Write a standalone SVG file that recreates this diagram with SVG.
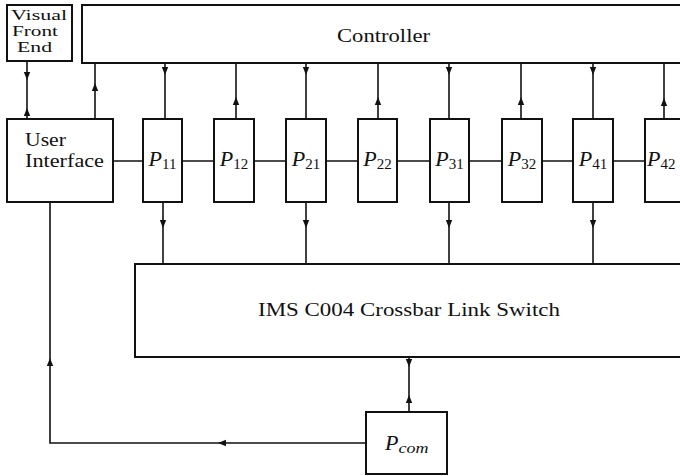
<svg xmlns="http://www.w3.org/2000/svg" xmlns:xlink="http://www.w3.org/1999/xlink" width="680" height="476" viewBox="0 0 680 476">
<style>
.box{fill:#fff;stroke:#111;stroke-width:2}
.ln{fill:none;stroke:#111;stroke-width:1.6}
.t{font-family:"Liberation Serif","DejaVu Serif",serif;fill:#111}
.p{font-family:"Liberation Serif","DejaVu Serif",serif;font-style:italic;fill:#111;font-size:22px}
.s{font-style:normal;font-size:15px}
.si{font-size:14px}
</style>
<defs>
<path id="ar" d="M-3.2,-8 L3.2,-8 L0,0 Z" fill="#111"/>
</defs>
<rect width="680" height="476" fill="#fff"/>
<g id="connectors">
<path class="ln" d="M27,61 V119"/>
<use xlink:href="#ar" transform="translate(27,80)"/>
<use xlink:href="#ar" transform="translate(27,108) rotate(180)"/>
<path class="ln" d="M95,119 V63"/>
<use xlink:href="#ar" transform="translate(95,83) rotate(180)"/>
<path class="ln" d="M165,63 V119"/>
<use xlink:href="#ar" transform="translate(165,75)"/>
<path class="ln" d="M236,63 V119"/>
<use xlink:href="#ar" transform="translate(236,97) rotate(180)"/>
<path class="ln" d="M306,63 V119"/>
<use xlink:href="#ar" transform="translate(306,75)"/>
<path class="ln" d="M378,63 V119"/>
<use xlink:href="#ar" transform="translate(378,97) rotate(180)"/>
<path class="ln" d="M449,63 V119"/>
<use xlink:href="#ar" transform="translate(449,75)"/>
<path class="ln" d="M521,63 V119"/>
<use xlink:href="#ar" transform="translate(521,97) rotate(180)"/>
<path class="ln" d="M593,63 V119"/>
<use xlink:href="#ar" transform="translate(593,75)"/>
<path class="ln" d="M664,63 V119"/>
<use xlink:href="#ar" transform="translate(664,98) rotate(180)"/>
<path class="ln" d="M113,161 H143 M182,161 H214 M254,161 H286 M326,161 H358 M397,161 H430 M469,161 H502 M542,161 H573 M613,161 H645"/>
<path class="ln" d="M163,202 V264"/>
<use xlink:href="#ar" transform="translate(163,228)"/>
<path class="ln" d="M306,202 V264"/>
<use xlink:href="#ar" transform="translate(306,228)"/>
<path class="ln" d="M449,202 V264"/>
<use xlink:href="#ar" transform="translate(449,228)"/>
<path class="ln" d="M593,202 V264"/>
<use xlink:href="#ar" transform="translate(593,228)"/>
<path class="ln" d="M409,357 V412"/>
<use xlink:href="#ar" transform="translate(409,367)"/>
<path class="ln" d="M366,443 H50 V202"/>
<use xlink:href="#ar" transform="translate(218,443) rotate(90)"/>
<use xlink:href="#ar" transform="translate(50,358) rotate(180)"/>
<use xlink:href="#ar" transform="translate(409,395) rotate(180)"/>
</g>
<g id="vfe">
<rect class="box" x="7" y="5" width="65" height="56"/>
<text class="t" font-size="15" x="11" y="20" textLength="56" lengthAdjust="spacingAndGlyphs">Visual</text>
<text class="t" font-size="15" x="12" y="36" textLength="46" lengthAdjust="spacingAndGlyphs">Front</text>
<text class="t" font-size="15" x="17" y="52" textLength="35" lengthAdjust="spacingAndGlyphs">End</text>
</g>
<g id="controller">
<rect class="box" x="82" y="5" width="610" height="58"/>
<text class="t" font-size="19" x="337" y="42" textLength="93" lengthAdjust="spacingAndGlyphs">Controller</text>
</g>
<g id="ui">
<rect class="box" x="7" y="119" width="106" height="83"/>
<text class="t" font-size="18" x="25" y="146" textLength="41" lengthAdjust="spacingAndGlyphs">User</text>
<text class="t" font-size="18" x="25" y="167" textLength="79" lengthAdjust="spacingAndGlyphs">Interface</text>
</g>
<g id="p11"><rect class="box" x="143" y="119" width="39" height="83"/><text class="p" x="162.5" y="166" text-anchor="middle">P<tspan class="s" dy="3">11</tspan></text></g>
<g id="p12"><rect class="box" x="214" y="119" width="40" height="83"/><text class="p" x="234" y="166" text-anchor="middle">P<tspan class="s" dy="3">12</tspan></text></g>
<g id="p21"><rect class="box" x="286" y="119" width="40" height="83"/><text class="p" x="306" y="166" text-anchor="middle">P<tspan class="s" dy="3">21</tspan></text></g>
<g id="p22"><rect class="box" x="358" y="119" width="39" height="83"/><text class="p" x="377.5" y="166" text-anchor="middle">P<tspan class="s" dy="3">22</tspan></text></g>
<g id="p31"><rect class="box" x="430" y="119" width="39" height="83"/><text class="p" x="449.5" y="166" text-anchor="middle">P<tspan class="s" dy="3">31</tspan></text></g>
<g id="p32"><rect class="box" x="502" y="119" width="40" height="83"/><text class="p" x="522" y="166" text-anchor="middle">P<tspan class="s" dy="3">32</tspan></text></g>
<g id="p41"><rect class="box" x="573" y="119" width="40" height="83"/><text class="p" x="593" y="166" text-anchor="middle">P<tspan class="s" dy="3">41</tspan></text></g>
<g id="p42"><rect class="box" x="645" y="119" width="45" height="83"/><text class="p" x="647" y="166">P<tspan class="s" dy="3">42</tspan></text></g>
<g id="crossbar">
<rect class="box" x="135" y="264" width="560" height="93"/>
<text class="t" font-size="19" x="258" y="316" textLength="302" lengthAdjust="spacingAndGlyphs">IMS C004 Crossbar Link Switch</text>
</g>
<g id="pcom">
<rect class="box" x="366" y="412" width="81" height="62"/>
<text class="p" x="385" y="450">P<tspan class="si" dy="3" textLength="30" lengthAdjust="spacingAndGlyphs">com</tspan></text>
</g>
</svg>
